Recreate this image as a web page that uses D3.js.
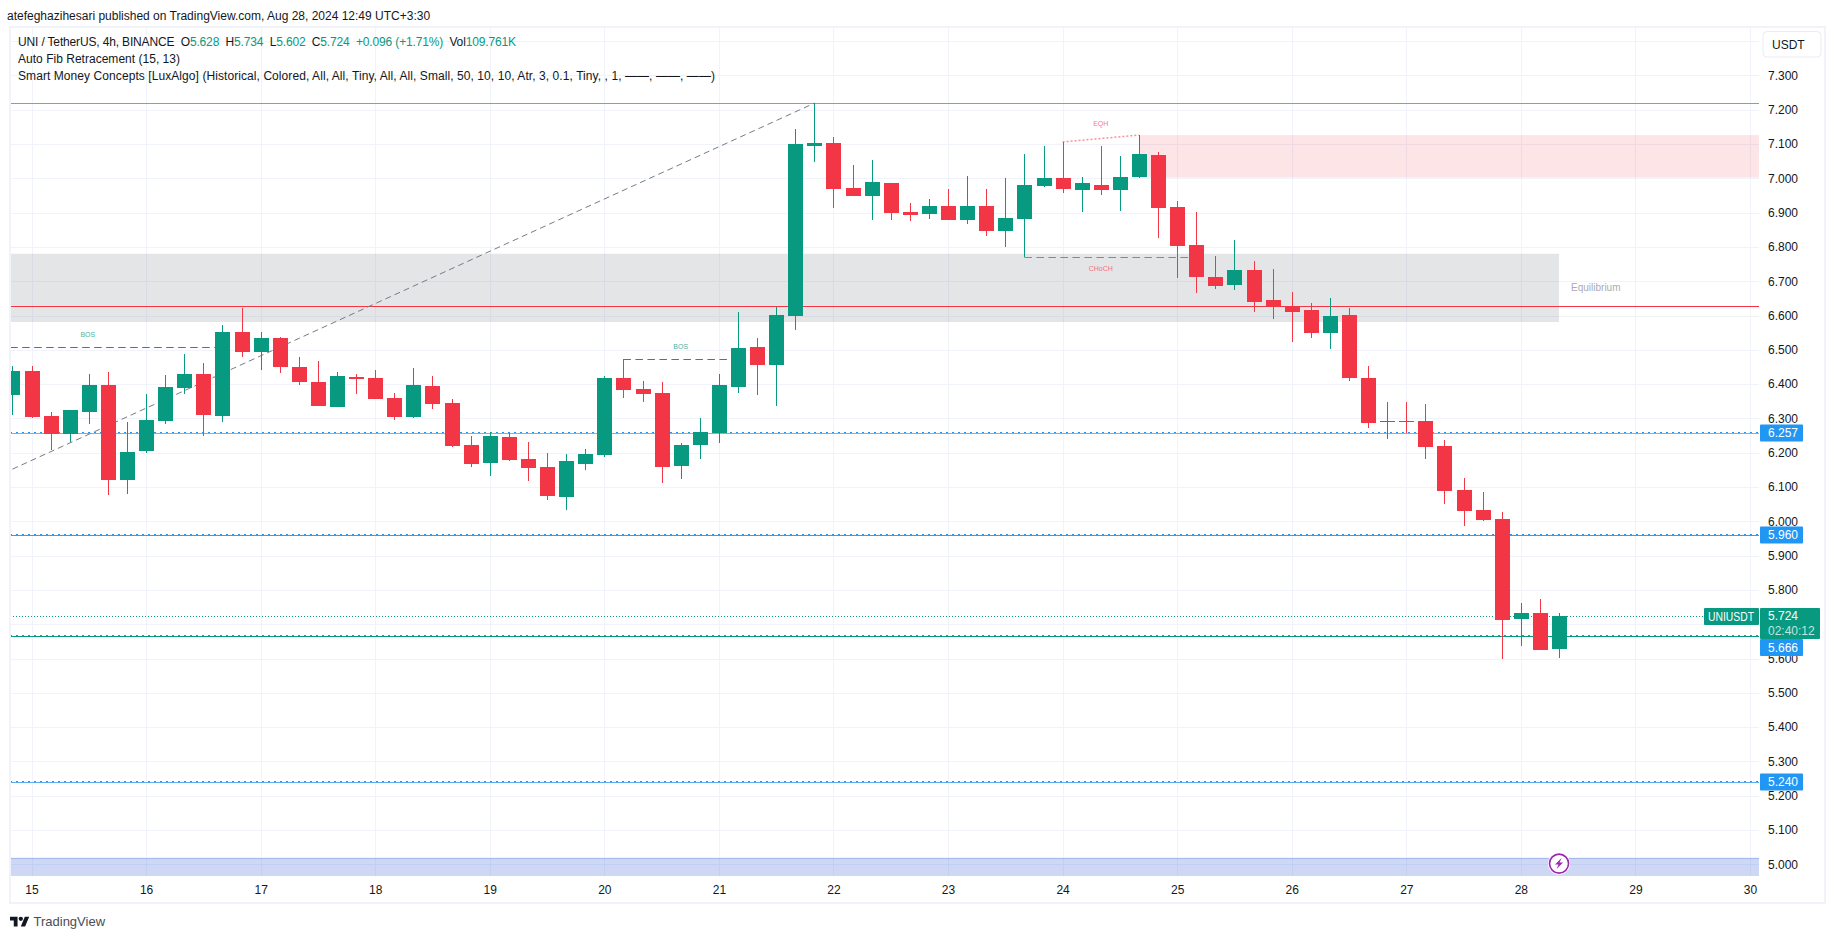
<!DOCTYPE html>
<html>
<head>
<meta charset="utf-8">
<script src="https://cdn.jsdelivr.net/npm/d3@7"></script>
<style>
html,body {margin:0;padding:0;background:#fff;overflow:hidden;}
svg {display:block;}
text {font-family:"Liberation Sans",Arial,sans-serif;font-size:12px;fill:#131722;}
.axis .domain,.axis line {display:none;}
</style>
</head>
<body>
<svg id="chart" width="1835" height="939"></svg>
<script>
// candle values, one entry per 4h bar
var opens = [6.368,6.438,6.307,6.255,6.319,6.397,6.120,6.205,6.292,6.389,6.429,6.307,6.552,6.494,6.534,6.450,6.406,6.333,6.420,6.418,6.359,6.304,6.394,6.345,6.222,6.170,6.246,6.182,6.158,6.071,6.167,6.193,6.418,6.386,6.374,6.161,6.222,6.257,6.392,6.508,6.456,6.598,7.094,7.103,6.972,6.948,6.986,6.902,6.896,6.919,6.878,6.919,6.846,6.881,6.977,7.001,6.966,6.980,6.966,7.004,7.068,6.916,6.806,6.712,6.689,6.733,6.645,6.628,6.616,6.549,6.602,6.418,6.290,6.293,6.293,6.220,6.091,6.033,6.007,5.715,5.733,5.628];
var highs = [6.453,6.453,6.319,6.324,6.429,6.435,6.290,6.371,6.426,6.488,6.462,6.572,6.622,6.552,6.537,6.479,6.467,6.435,6.429,6.441,6.374,6.447,6.423,6.356,6.249,6.260,6.257,6.231,6.199,6.196,6.211,6.423,6.473,6.409,6.406,6.228,6.301,6.429,6.610,6.534,6.625,7.144,7.219,7.120,7.039,7.053,6.986,6.928,6.940,6.969,7.007,6.969,7.001,7.071,7.094,7.106,7.004,7.094,7.065,7.126,7.077,6.934,6.902,6.773,6.820,6.759,6.736,6.669,6.637,6.651,6.622,6.453,6.348,6.348,6.342,6.237,6.126,6.085,6.027,5.762,5.773,5.734];
var lows = [6.310,6.301,6.208,6.231,6.284,6.077,6.080,6.199,6.284,6.371,6.249,6.290,6.479,6.441,6.432,6.397,6.336,6.333,6.371,6.356,6.295,6.301,6.327,6.216,6.158,6.132,6.176,6.117,6.062,6.033,6.150,6.187,6.359,6.348,6.112,6.123,6.182,6.228,6.374,6.368,6.336,6.558,7.048,6.914,6.948,6.878,6.878,6.876,6.881,6.878,6.867,6.832,6.800,6.771,6.974,6.957,6.902,6.951,6.905,7.001,6.826,6.709,6.666,6.677,6.674,6.610,6.590,6.523,6.534,6.503,6.409,6.272,6.240,6.257,6.182,6.050,5.986,6.001,5.599,5.636,5.625,5.602];
var closes = [6.438,6.304,6.255,6.324,6.397,6.120,6.202,6.295,6.392,6.429,6.310,6.552,6.494,6.534,6.450,6.406,6.336,6.423,6.415,6.356,6.304,6.397,6.342,6.219,6.167,6.249,6.179,6.155,6.074,6.176,6.196,6.418,6.383,6.371,6.158,6.222,6.260,6.397,6.505,6.456,6.602,7.100,7.103,6.969,6.948,6.989,6.899,6.893,6.919,6.878,6.919,6.846,6.884,6.980,7.001,6.969,6.986,6.966,7.004,7.071,6.914,6.803,6.712,6.686,6.733,6.640,6.625,6.610,6.549,6.598,6.418,6.287,6.293,6.290,6.217,6.088,6.030,6.004,5.713,5.733,5.625,5.724];

// 5.700 is covered by the last price tag in the picture, so it gets no label
var priceTicks = [5.0,5.1,5.2,5.3,5.4,5.5,5.6,5.8,5.9,6.0,6.1,6.2,6.3,6.4,6.5,6.6,6.7,6.8,6.9,7.0,7.1,7.2,7.3];
var gridPrices = priceTicks.concat([5.7,7.4]);
var dayTicks = [15,16,17,18,19,20,21,22,23,24,25,26,27,28,29,30];

var levelPrices = [6.257,5.960,5.666,5.240];
var levelColors = ['#8dbb86','#4caf50','#089981','#58aef5'];
var fibPrices = [6.152,7.219];
var fibBars = [0,42];
var fibHigh = 7.219;
var midLine = 6.627;
var lastPrice = 5.724;

var equilibriumZone = [6.581,6.780];
var supplyZone = [7.002,7.126];
var demandZone = [4.960,5.019];

var bosPrices = [6.507,6.473];
var bosBars = [[-2,11],[32,38]];
var bosLabelBars = [3.95,35];
var chochPrice = 6.770;
var chochBars = [53,62];
var eqhPrices = [7.106,7.126];
var eqhBars = [55,59];

var titleLines = [
    [['UNI / TetherUS, 4h, BINANCE  O',0],['5.628',1],['  H',0],['5.734',1],['  L',0],['5.602',1],['  C',0],['5.724',1],['  +0.096 (+1.71%)',1],['  Vol',0],['109.761K',1]],
    [['Auto Fib Retracement (15, 13)',0]],
    [['Smart Money Concepts [LuxAlgo] (Historical, Colored, All, All, Tiny, All, All, Small, 50, 10, 10, Atr, 3, 0.1, Tiny, , 1, \u2014\u2014, \u2014\u2014, \u2014\u2014)',0]]
];
var titleWidths = [498,162,697];

var GREEN = '#089981', RED = '#f23645', BLUE = '#2196f3', GRID = '#f0f3fa', FRAME = '#f0f3fa';

var pane = {left:10,right:1759,top:27,bottom:876};
var svg = d3.select('#chart');

var y = d3.scaleLinear().domain([5,7.3]).range([864.3,75.4]);
var x = d3.scaleUtc()
    .domain([Date.UTC(2024,7,15),Date.UTC(2024,7,30)])
    .range([31.5,1750]);

function barX (i) {
    // bar 1 opens the 15th, six bars a day
    return x(Date.UTC(2024,7,15) + (i-1)*4*3600*1000);
}

var candles = opens.map(function (o,i) {
    return {i:i,o:o,h:highs[i],l:lows[i],c:closes[i]};
});

svg.append('defs').append('clipPath').attr('id','pane')
    .append('rect')
    .attr('x',pane.left).attr('y',pane.top)
    .attr('width',pane.right-pane.left).attr('height',pane.bottom-pane.top);

// top note
svg.append('text').attr('x',7).attr('y',19.5)
    .text('atefeghazihesari published on TradingView.com, Aug 28, 2024 12:49 UTC+3:30');

var plot = svg.append('g').attr('clip-path','url(#pane)');

// grid
plot.append('g').selectAll('line').data(gridPrices).join('line')
    .attr('x1',pane.left).attr('x2',pane.right)
    .attr('y1',function (d) {return Math.round(y(d))+0.5;})
    .attr('y2',function (d) {return Math.round(y(d))+0.5;})
    .attr('stroke',GRID);
plot.append('g').selectAll('line').data(dayTicks).join('line')
    .attr('x1',function (d) {return Math.round(x(Date.UTC(2024,7,d)))+0.5;})
    .attr('x2',function (d) {return Math.round(x(Date.UTC(2024,7,d)))+0.5;})
    .attr('y1',pane.top).attr('y2',pane.bottom)
    .attr('stroke',GRID);

// zones
plot.append('rect')
    .attr('x',pane.left).attr('width',barX(81)-pane.left)
    .attr('y',y(equilibriumZone[1])).attr('height',y(equilibriumZone[0])-y(equilibriumZone[1]))
    .attr('fill','rgba(120,123,134,0.2)');
plot.append('rect')
    .attr('x',barX(59)).attr('width',pane.right-barX(59))
    .attr('y',y(supplyZone[1])).attr('height',y(supplyZone[0])-y(supplyZone[1]))
    .attr('fill','rgba(242,54,69,0.13)');
plot.append('rect')
    .attr('x',pane.left).attr('width',pane.right-pane.left)
    .attr('y',y(demandZone[1])).attr('height',y(demandZone[0])-y(demandZone[1]))
    .attr('fill','rgba(60,100,210,0.25)');
plot.append('line')
    .attr('x1',pane.left).attr('x2',pane.right)
    .attr('y1',Math.round(y(demandZone[1]))+0.5).attr('y2',Math.round(y(demandZone[1]))+0.5)
    .attr('stroke','#a7b9ec');

// horizontal levels, solid with a blue dashed line just above
levelPrices.forEach(function (p,i) {
    var ly = Math.round(y(p));
    plot.append('line')
        .attr('x1',pane.left).attr('x2',pane.right)
        .attr('y1',ly+0.5).attr('y2',ly+0.5)
        .attr('stroke',levelColors[i]);
    plot.append('line')
        .attr('x1',pane.left).attr('x2',pane.right)
        .attr('y1',ly-0.5).attr('y2',ly-0.5)
        .attr('stroke',BLUE).attr('stroke-dasharray','2,4');
});

plot.append('line')
    .attr('x1',pane.left).attr('x2',pane.right)
    .attr('y1',Math.round(y(fibHigh))+0.5).attr('y2',Math.round(y(fibHigh))+0.5)
    .attr('stroke','#9598b0');
plot.append('line')
    .attr('x1',pane.left).attr('x2',pane.right)
    .attr('y1',Math.round(y(midLine))+0.5).attr('y2',Math.round(y(midLine))+0.5)
    .attr('stroke',RED);
plot.append('line')
    .attr('x1',pane.left).attr('x2',pane.right)
    .attr('y1',Math.round(y(lastPrice))+0.5).attr('y2',Math.round(y(lastPrice))+0.5)
    .attr('stroke',GREEN).attr('stroke-dasharray','1,2');

// fib trend line
plot.append('line')
    .attr('x1',barX(fibBars[0])).attr('y1',y(fibPrices[0]))
    .attr('x2',barX(fibBars[1])).attr('y2',y(fibPrices[1]))
    .attr('stroke','#787b86').attr('stroke-dasharray','6,4');

// structure marks
bosPrices.forEach(function (p,i) {
    plot.append('line')
        .attr('x1',barX(bosBars[i][0])).attr('x2',barX(bosBars[i][1]))
        .attr('y1',Math.round(y(p))+0.5).attr('y2',Math.round(y(p))+0.5)
        .attr('stroke',GREEN).attr('stroke-dasharray','7.5,4.5');
    plot.append('text')
        .attr('x',barX(bosLabelBars[i])).attr('y',y(p)-12.5)
        .attr('dy','0.35em').attr('text-anchor','middle')
        .style('font-size','7px').style('fill',GREEN).style('opacity',0.75)
        .text('BOS');
});
plot.append('line')
    .attr('x1',barX(chochBars[0])).attr('x2',barX(chochBars[1]))
    .attr('y1',Math.round(y(chochPrice))+0.5).attr('y2',Math.round(y(chochPrice))+0.5)
    .attr('stroke',RED).attr('stroke-opacity',0.8).attr('stroke-dasharray','7.5,4.5');
plot.append('text')
    .attr('x',barX(57)).attr('y',y(chochPrice)+11)
    .attr('dy','0.35em').attr('text-anchor','middle')
    .style('font-size','7px').style('fill',RED).style('opacity',0.65)
    .text('CHoCH');
plot.append('line')
    .attr('x1',barX(eqhBars[0])).attr('y1',y(eqhPrices[0]))
    .attr('x2',barX(eqhBars[1])).attr('y2',y(eqhPrices[1]))
    .attr('stroke',RED).attr('stroke-opacity',0.55).attr('stroke-width',1.5).attr('stroke-dasharray','2,2');
plot.append('text')
    .attr('x',barX(57)).attr('y',y(eqhPrices[1])-11.7)
    .attr('dy','0.35em').attr('text-anchor','middle')
    .style('font-size','7px').style('fill',RED).style('opacity',0.65)
    .text('EQH');
plot.append('text')
    .attr('x',barX(81)+12).attr('y',y(6.681))
    .attr('dy','0.35em')
    .style('font-size','10px').style('fill','#a9acb6')
    .text('Equilibrium');

// candles
var bars = plot.append('g').attr('shape-rendering','crispEdges')
    .selectAll('g').data(candles).join('g')
    .attr('fill',function (d) {return d.c>=d.o ? GREEN : RED;});
bars.append('rect')
    .attr('x',function (d) {return Math.round(barX(d.i));})
    .attr('width',1)
    .attr('y',function (d) {return y(d.h);})
    .attr('height',function (d) {return y(d.l)-y(d.h);});
bars.append('rect')
    .attr('x',function (d) {return Math.round(barX(d.i))-7;})
    .attr('width',15)
    .attr('y',function (d) {return y(Math.max(d.o,d.c));})
    .attr('height',function (d) {return Math.max(1,Math.abs(y(d.o)-y(d.c)));});

// frame
svg.append('rect')
    .attr('x',10).attr('y',27).attr('width',1815).attr('height',876)
    .attr('fill','none').attr('stroke',FRAME).attr('stroke-width',2);

// axes
var priceAxis = svg.append('g').attr('class','axis')
    .attr('transform','translate(1760,0)')
    .call(d3.axisRight(y).tickValues(priceTicks).tickSize(0).tickPadding(8).tickFormat(d3.format('.3f')));
var timeAxis = svg.append('g').attr('class','axis')
    .attr('transform','translate(0,'+pane.bottom+')')
    .call(d3.axisBottom(x)
        .tickValues(dayTicks.map(function (d) {return new Date(Date.UTC(2024,7,d));}))
        .tickSize(0).tickPadding(9).tickFormat(d3.utcFormat('%-d')));
svg.selectAll('.axis text').style('font-size','12px').style('fill','#131722');

// legend lines
var legend = svg.append('g');
titleLines.forEach(function (line,i) {
    var t = legend.append('text').attr('x',18).attr('y',46+i*17.2)
        .attr('textLength',titleWidths[i]).attr('lengthAdjust','spacing')
        .attr('xml:space','preserve').style('white-space','pre');
    line.forEach(function (part) {
        t.append('tspan').text(part[0]).style('fill',part[1] ? GREEN : '#131722');
    });
});

// currency button
svg.append('rect')
    .attr('x',1763).attr('y',31.5).attr('width',58).attr('height',25.5).attr('rx',4)
    .attr('fill','#fff').attr('stroke','#e9ecf2');
svg.append('text').attr('x',1772).attr('y',48.5).text('USDT');

// price tags
var tags = svg.append('g');
[6.257,5.960,5.240].forEach(function (p) {
    tags.append('rect').attr('x',1760).attr('width',43).attr('height',17)
        .attr('y',Math.round(y(p))-8.5).attr('rx',1).attr('fill',BLUE);
    tags.append('text').attr('x',1768).attr('y',y(p)).attr('dy','0.35em')
        .style('fill','#fff').text(d3.format('.3f')(p));
});
tags.append('rect').attr('x',1704).attr('y',608).attr('width',55).attr('height',17).attr('rx',1).attr('fill',GREEN);
tags.append('text').attr('x',1708).attr('y',616.5).attr('dy','0.35em')
    .attr('textLength',46).attr('lengthAdjust','spacingAndGlyphs')
    .style('fill','#fff').text('UNIUSDT');
tags.append('rect').attr('x',1760).attr('y',608).attr('width',60).attr('height',31).attr('rx',1).attr('fill',GREEN);
tags.append('text').attr('x',1768).attr('y',y(lastPrice)).attr('dy','0.35em').style('fill','#fff').text(d3.format('.3f')(lastPrice));
tags.append('text').attr('x',1768).attr('y',631).attr('dy','0.35em').style('fill','rgba(255,255,255,0.75)').text('02:40:12');
tags.append('rect').attr('x',1760).attr('y',639).attr('width',43).attr('height',17).attr('rx',1).attr('fill',BLUE);
tags.append('text').attr('x',1768).attr('y',647.5).attr('dy','0.35em').style('fill','#fff').text('5.666');

// bolt marker on the last bar
var bolt = svg.append('g').attr('transform','translate('+barX(81)+','+y(5.002)+')');
bolt.append('circle').attr('r',11).attr('fill','#fff');
bolt.append('circle').attr('r',9.5).attr('fill','#fff').attr('stroke','#9c27b0').attr('stroke-width',1.6);
bolt.append('path').attr('d','M2.5,-5.5 L-4,1 L-0.5,1 L-2.5,5.5 L4,-1 L0.5,-1 Z').attr('fill','#9c27b0');

// footer logo
var logo = svg.append('g').attr('transform','translate(10,914.5) scale(0.54)').attr('fill','#131722');
logo.append('path').attr('d','M14 22H7V11H0V4h14v18zM28 22h-8l7.5-18h8L28 22z');
logo.append('circle').attr('cx',20).attr('cy',8).attr('r',4);
svg.append('text').attr('x',33.5).attr('y',926).style('font-size','13px').style('fill','#4a4d55').text('TradingView');
</script>
</body>
</html>
